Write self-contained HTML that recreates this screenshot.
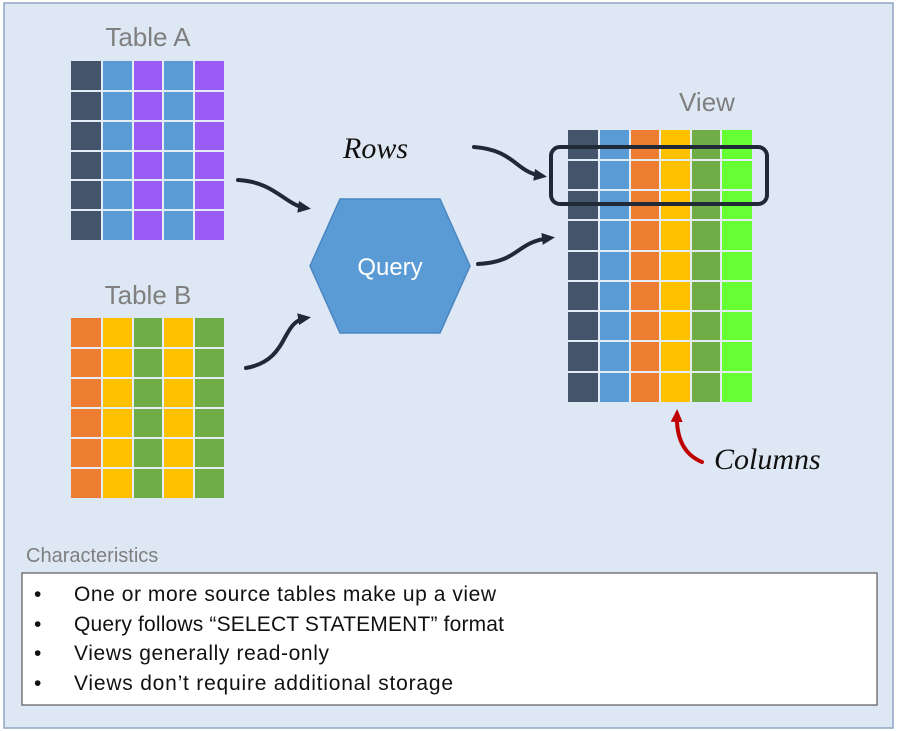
<!DOCTYPE html>
<html><head><meta charset="utf-8"><style>
html,body{margin:0;padding:0;background:#fff;}
svg{display:block;}
</style></head><body>
<svg width="897" height="731" viewBox="0 0 897 731" xmlns="http://www.w3.org/2000/svg">
<defs>
<marker id="ah" markerWidth="14" markerHeight="14" refX="8" refY="7" orient="auto" markerUnits="userSpaceOnUse"><path d="M0,1 L13,7 L0,13 Z" fill="#1f2a36"/></marker>
<marker id="ahr" markerWidth="14" markerHeight="14" refX="8" refY="7" orient="auto" markerUnits="userSpaceOnUse"><path d="M0,1 L13,7 L0,13 Z" fill="#c00000"/></marker>
</defs>
<rect x="4" y="3" width="889" height="725" fill="#dde8f4" stroke="#8ea6c4" stroke-width="1.5"/>
<g font-family="Liberation Sans, sans-serif" fill="#7f7f7f" font-size="26">
<text x="148" y="46" text-anchor="middle">Table A</text>
<text x="148" y="304" text-anchor="middle">Table B</text>
<text x="707" y="111" text-anchor="middle">View</text>
</g>
<!-- Table A -->
<g>
<rect x="71" y="61" width="31" height="179" fill="#44546a"/>
<rect x="102" y="61" width="31" height="179" fill="#5b9bd5"/>
<rect x="133" y="61" width="30" height="179" fill="#9b5cf6"/>
<rect x="163" y="61" width="31" height="179" fill="#5b9bd5"/>
<rect x="194" y="61" width="30" height="179" fill="#9b5cf6"/>
<g stroke="#e4edf7" stroke-width="2">
<line x1="102" y1="61" x2="102" y2="240"/><line x1="133" y1="61" x2="133" y2="240"/><line x1="163" y1="61" x2="163" y2="240"/><line x1="194" y1="61" x2="194" y2="240"/>
<line x1="71" y1="91" x2="224" y2="91"/><line x1="71" y1="121" x2="224" y2="121"/><line x1="71" y1="151" x2="224" y2="151"/><line x1="71" y1="180" x2="224" y2="180"/><line x1="71" y1="210" x2="224" y2="210"/>
</g>
</g>
<!-- Table B -->
<g>
<rect x="71" y="318" width="31" height="180" fill="#ed7d31"/>
<rect x="102" y="318" width="31" height="180" fill="#ffc000"/>
<rect x="133" y="318" width="30" height="180" fill="#70ad47"/>
<rect x="163" y="318" width="31" height="180" fill="#ffc000"/>
<rect x="194" y="318" width="30" height="180" fill="#70ad47"/>
<g stroke="#e4edf7" stroke-width="2">
<line x1="102" y1="318" x2="102" y2="498"/><line x1="133" y1="318" x2="133" y2="498"/><line x1="163" y1="318" x2="163" y2="498"/><line x1="194" y1="318" x2="194" y2="498"/>
<line x1="71" y1="348" x2="224" y2="348"/><line x1="71" y1="378" x2="224" y2="378"/><line x1="71" y1="408" x2="224" y2="408"/><line x1="71" y1="438" x2="224" y2="438"/><line x1="71" y1="468" x2="224" y2="468"/>
</g>
</g>
<!-- View -->
<g>
<rect x="568" y="130" width="31" height="272" fill="#44546a"/>
<rect x="599" y="130" width="31" height="272" fill="#5b9bd5"/>
<rect x="630" y="130" width="30" height="272" fill="#ed7d31"/>
<rect x="660" y="130" width="31" height="272" fill="#ffc000"/>
<rect x="691" y="130" width="30" height="272" fill="#70ad47"/>
<rect x="721" y="130" width="31" height="272" fill="#66ff33"/>
<g stroke="#e4edf7" stroke-width="2">
<line x1="599" y1="130" x2="599" y2="402"/><line x1="630" y1="130" x2="630" y2="402"/><line x1="660" y1="130" x2="660" y2="402"/><line x1="691" y1="130" x2="691" y2="402"/><line x1="721" y1="130" x2="721" y2="402"/>
<line x1="568" y1="160" x2="752" y2="160"/><line x1="568" y1="190" x2="752" y2="190"/><line x1="568" y1="220" x2="752" y2="220"/><line x1="568" y1="251" x2="752" y2="251"/><line x1="568" y1="281" x2="752" y2="281"/><line x1="568" y1="311" x2="752" y2="311"/><line x1="568" y1="341" x2="752" y2="341"/><line x1="568" y1="372" x2="752" y2="372"/>
</g>
<rect x="551" y="147" width="216" height="57" rx="9" fill="none" stroke="#1f2a36" stroke-width="4"/>
</g>
<!-- Query hexagon -->
<polygon points="310,266 340,199 440,199 470,266 440,333 340,333" fill="#5b9bd5" stroke="#4a86c0" stroke-width="1.5"/>
<text x="390" y="275" text-anchor="middle" font-family="Liberation Sans, sans-serif" font-size="24" fill="#fff">Query</text>
<!-- arrows -->
<g fill="none" stroke="#1f2a36" stroke-width="4" stroke-linecap="round">
<path d="M238,180 C275,182 285,205 306,208" marker-end="url(#ah)"/>
<path d="M246,368 C290,360 280,322 306,318" marker-end="url(#ah)"/>
<path d="M478,264 C520,262 515,242 550,238" marker-end="url(#ah)"/>
<path d="M474,147 C515,150 515,172 542,176" marker-end="url(#ah)"/>
</g>
<path d="M702,462 C685,455 676,440 677,414" fill="none" stroke="#c00000" stroke-width="4" stroke-linecap="round" marker-end="url(#ahr)"/>
<g font-family="Liberation Serif, serif" font-style="italic" font-size="30" fill="#111">
<text x="343" y="158">Rows</text>
<text x="714" y="469">Columns</text>
</g>
<!-- Characteristics -->
<text x="26" y="562" font-family="Liberation Sans, sans-serif" font-size="20" fill="#7f7f7f">Characteristics</text>
<rect x="22" y="573" width="855" height="132" fill="#fff" stroke="#595959" stroke-width="1.2"/>
<g font-family="Liberation Sans, sans-serif" font-size="21" fill="#111">
<text x="34" y="601">•</text><text x="74" y="601" textLength="422">One or more source tables make up a view</text>
<text x="34" y="631">•</text><text x="74" y="631" textLength="430">Query follows “SELECT STATEMENT” format</text>
<text x="34" y="660">•</text><text x="74" y="660" textLength="255">Views generally read-only</text>
<text x="34" y="690">•</text><text x="74" y="690" textLength="379">Views don’t require additional storage</text>
</g>
</svg>
</body></html>
